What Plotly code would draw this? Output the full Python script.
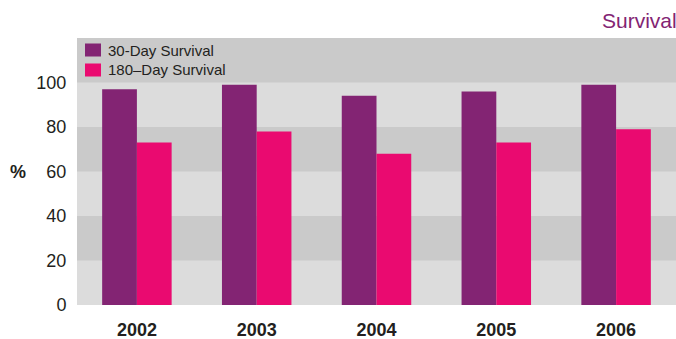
import plotly.graph_objects as go

years = ["2002", "2003", "2004", "2005", "2006"]
survival_30 = [97, 99, 94, 96, 99]
survival_180 = [73, 78, 68, 73, 79]
y_ticks = [0, 20, 40, 60, 80, 100]
series_names = ["30-Day Survival", "180\u2013Day Survival"]

PURPLE = "#832473"
PINK = "#ea0a70"
LIGHT = "#dcdcdc"
DARK = "#cacaca"
TEXT = "#231f20"
FONT = "Liberation Sans, Arial, sans-serif"

fig = go.Figure()
fig.add_trace(go.Bar(x=years, y=survival_30, name=series_names[0],
                     marker=dict(color=PURPLE, line=dict(width=0))))
fig.add_trace(go.Bar(x=years, y=survival_180, name=series_names[1],
                     marker=dict(color=PINK, line=dict(width=0))))

# alternating horizontal bands behind the bars
shapes = []
for i, lo in enumerate(range(0, 120, 20)):
    shapes.append(dict(type="rect", xref="paper", yref="y", x0=0, x1=1,
                       y0=lo, y1=lo + 20, fillcolor=LIGHT if i % 2 == 0 else DARK,
                       line=dict(width=0), layer="below"))

annotations = [
    dict(text="Survival", xref="paper", yref="paper", x=1, y=1,
         xanchor="right", yanchor="bottom", xshift=3, yshift=4, showarrow=False,
         font=dict(size=21, color=PURPLE)),
    dict(text="<b>%</b>", xref="paper", yref="y", x=0, y=60,
         xanchor="left", yanchor="middle", xshift=-69, showarrow=False,
         font=dict(size=18, color=TEXT)),
]

# hand-built legend: swatch + label in the top-left band
for k, (name, col) in enumerate(zip(series_names, [PURPLE, PINK])):
    y_pix = 12 + 20 * k  # distance of row centre below plot top, px
    shapes.append(dict(type="rect", xref="paper", yref="paper",
                       x0=8 / 599, x1=24 / 599,
                       y0=1 - (y_pix + 6.5) / 267, y1=1 - (y_pix - 6.5) / 267,
                       fillcolor=col, line=dict(width=0)))
    annotations.append(dict(text=name, xref="paper", yref="paper",
                            x=29 / 599, y=1 - y_pix / 267,
                            xanchor="left", yanchor="middle", showarrow=False,
                            font=dict(size=15, color=TEXT)))

fig.update_layout(
    width=676, height=339,
    margin=dict(l=77, r=0, t=38, b=34),
    paper_bgcolor="white", plot_bgcolor=LIGHT,
    barmode="group", bargap=0.42, bargroupgap=0,
    shapes=shapes, annotations=annotations,
    font=dict(family=FONT, color=TEXT),
    showlegend=False,
    xaxis=dict(showgrid=False, zeroline=False, showline=False, automargin=False,
               ticks="outside", ticklen=8, tickcolor="rgba(0,0,0,0)",
               tickfont=dict(size=18, family=FONT, color=TEXT, weight="bold")),
    yaxis=dict(range=[0, 120], tickvals=y_ticks, showgrid=False, zeroline=False,
               showline=False, automargin=False, ticks="outside", ticklen=6,
               tickcolor="rgba(0,0,0,0)",
               tickfont=dict(size=18, color=TEXT)),
)

fig.write_html("out.html")
